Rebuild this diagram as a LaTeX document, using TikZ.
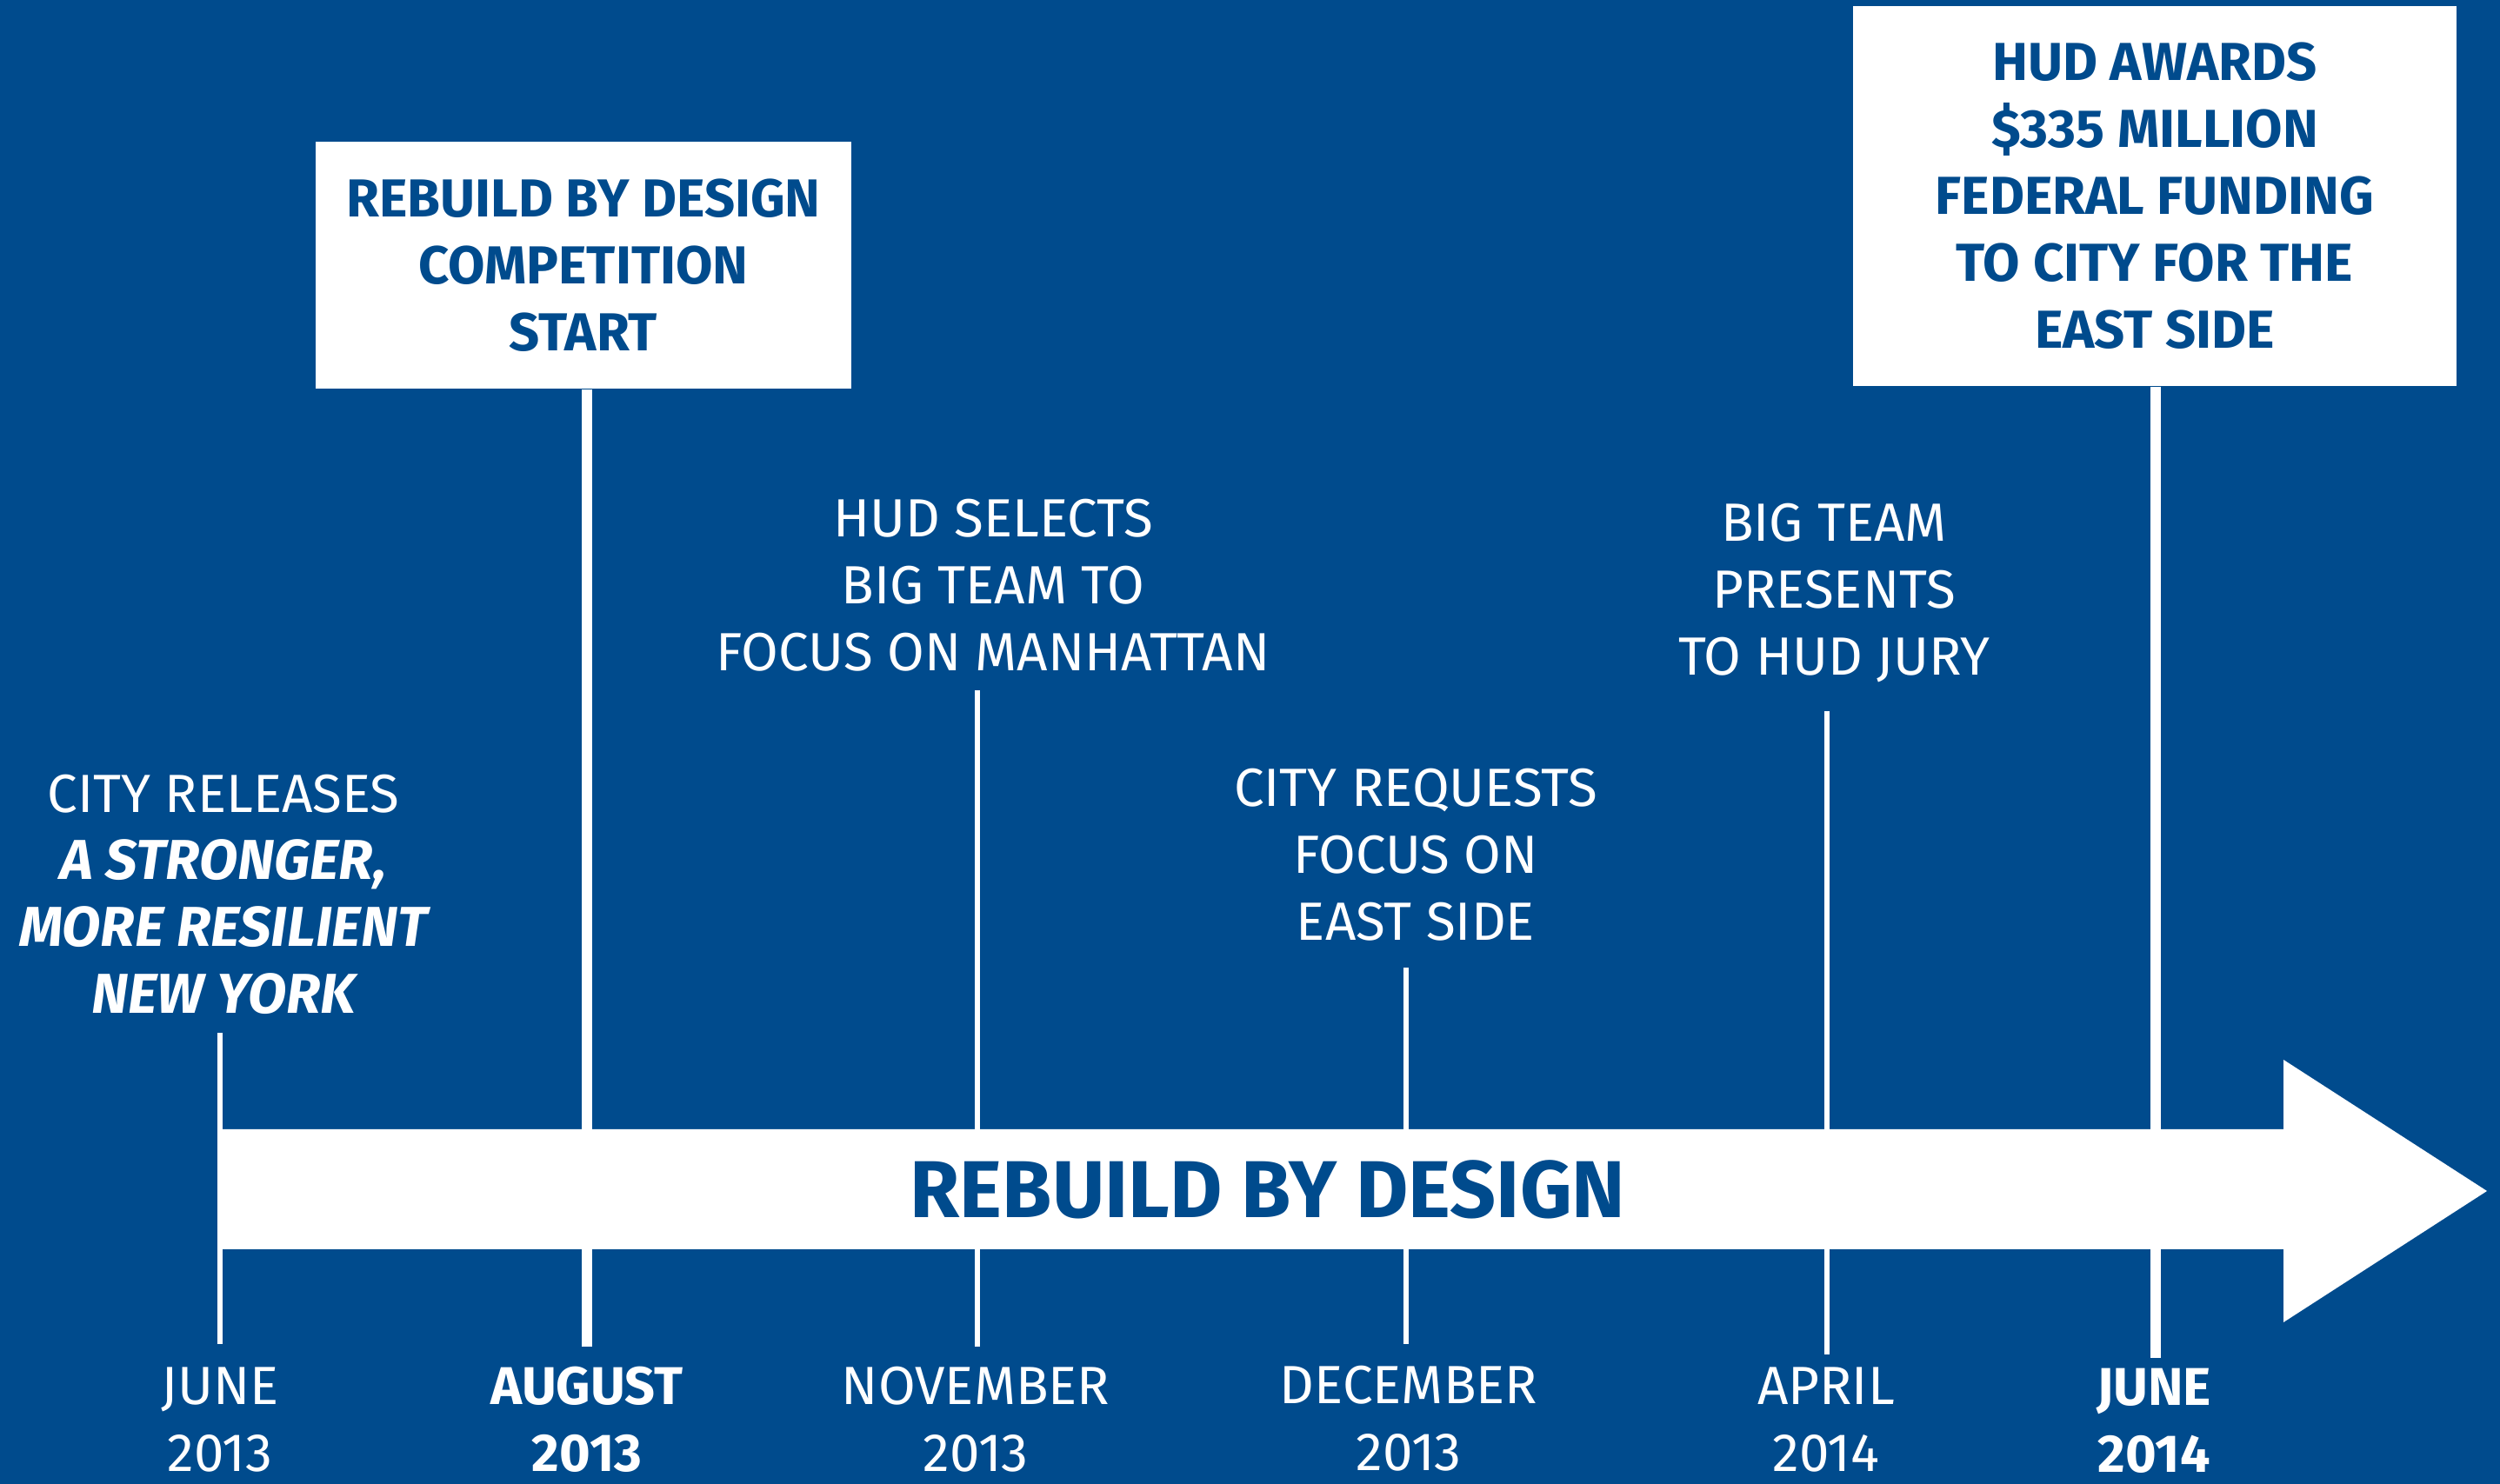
\documentclass[tikz,border=0pt]{standalone}
\usepackage{fontspec}
\setmainfont{Fira Sans}
\usepackage{tikz}
\definecolor{rbdblue}{HTML}{004B8D}
\pgfdeclarelayer{bg}
\pgfsetlayers{bg,main}
\tikzset{
    every node/.style={inner sep=0mm, text=white, align=center, font=\fontsize{17.6}{21.9}\selectfont}
}
\tikzset{eventbox/.style={rectangle, fill=white, text=rbdblue, font=\fontsize{17.5}{21.9}\selectfont\bfseries}}
\tikzset{keydate/.style={font=\fontsize{17.4}{21.9}\selectfont\bfseries}}
\tikzset{thintick/.style={draw=white, line width=0.06cm}}
\tikzset{thicktick/.style={draw=white, line width=0.12cm}}

\begin{document}
\begin{tikzpicture}
        \begin{pgfonlayer}{bg}
                \fill[rbdblue] (0cm, 0cm) rectangle (28.75cm, 17.07cm);
        \end{pgfonlayer}
        \node (box1) [eventbox, minimum width=6.16cm, minimum height=2.84cm] at (6.71cm, 14.02cm) {REBUILD BY DESIGN\\COMPETITION\\START};
        \node (box2) [eventbox, minimum width=6.94cm, minimum height=4.37cm] at (24.78cm, 14.815cm) {HUD AWARDS\\\$335 MILLION\\FEDERAL FUNDING\\TO CITY FOR THE\\EAST SIDE};
        \node (e1) at (2.57cm, 6.785cm) {CITY RELEASES\\{\fontsize{18.4}{21.9}\selectfont\bfseries\itshape A STRONGER,}\\{\fontsize{18.4}{21.9}\selectfont\bfseries\itshape MORE RESILIENT}\\{\fontsize{18.4}{21.9}\selectfont\bfseries\itshape NEW YORK}};
        \node (e2) at (11.42cm, 10.34cm) {HUD SELECTS\\BIG TEAM TO\\FOCUS ON MANHATTAN};
        \node (e3) at (16.28cm, 7.24cm) {CITY REQUESTS\\FOCUS ON\\EAST SIDE};
        \node (e4) at (21.09cm, 10.25cm) {BIG TEAM\\PRESENTS\\TO HUD JURY};
        \node (d1) at (2.53cm, 0.74cm) {JUNE\\2013};
        \node (d2) [keydate] at (6.75cm, 0.74cm) {AUGUST\\2013};
        \node (d3) at (11.22cm, 0.74cm) {NOVEMBER\\2013};
        \node (d4) at (16.20cm, 0.75cm) {DECEMBER\\2013};
        \node (d5) at (21.00cm, 0.74cm) {APRIL\\2014};
        \node (d6) [keydate] at (24.77cm, 0.73cm) {JUNE\\2014};
        \coordinate (t1) at (2.53cm, 5.19cm);
        \coordinate (b1) at (2.53cm, 1.61cm);
        \coordinate (b2) at (6.75cm, 1.58cm);
        \coordinate (t3) at (11.24cm, 9.13cm);
        \coordinate (b3) at (11.24cm, 1.58cm);
        \coordinate (t4) at (16.17cm, 5.94cm);
        \coordinate (b4) at (16.17cm, 1.61cm);
        \coordinate (t5) at (21.01cm, 8.89cm);
        \coordinate (b5) at (21.01cm, 1.49cm);
        \coordinate (b6) at (24.79cm, 1.45cm);
        \begin{pgfonlayer}{bg}
                \draw[thintick] (t1) -- (b1);
                \draw[thicktick] (box1.south -| b2) -- (b2);
                \draw[thintick] (t3) -- (b3);
                \draw[thintick] (t4) -- (b4);
                \draw[thintick] (t5) -- (b5);
                \draw[thicktick] (box2.south -| b6) -- (b6);
        \end{pgfonlayer}
        \fill[white] (2.53cm, 2.70cm) -- (26.26cm, 2.70cm) -- (26.26cm, 1.86cm) -- (28.60cm, 3.37cm)
                -- (26.26cm, 4.88cm) -- (26.26cm, 4.08cm) -- (2.53cm, 4.08cm) -- cycle;
        \node (title) [text=rbdblue, font=\fontsize{26.4}{30}\selectfont\bfseries] at (14.58cm, 3.39cm) {REBUILD BY DESIGN};
\end{tikzpicture}
\end{document}
